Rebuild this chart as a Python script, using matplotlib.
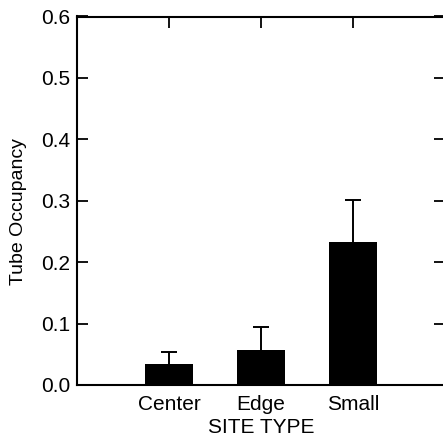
import matplotlib
matplotlib.use("Agg")
import matplotlib.pyplot as plt

plt.rcParams['font.family'] = ['Liberation Sans', 'DejaVu Sans']

categories = ["Center", "Edge", "Small"]
occupancy = [0.034, 0.057, 0.233]
err_upper = [0.019, 0.038, 0.068]
yticks = [0.0, 0.1, 0.2, 0.3, 0.4, 0.5, 0.6]

fig = plt.figure(figsize=(4.43, 4.43), dpi=100)
ax = fig.add_axes([77/443, 1-385/443, 368/443, 368.5/443])

x = [1, 2, 3]
ax.bar(x, occupancy, width=0.52, color='black', zorder=3)
eb = ax.errorbar(x, occupancy, yerr=[[0]*3, err_upper], fmt='none', ecolor='black',
                 elinewidth=1.4, capsize=6, capthick=1.4, zorder=2)
eb[1][0].set_visible(False)

ax.set_xlim(0, 4)
ax.set_ylim(0, 0.6)
ax.set_yticks(yticks)
ax.set_yticklabels([f"{v:.1f}" for v in yticks])
ax.set_xticks(x)
ax.set_xticklabels(categories)

for s in ax.spines.values():
    s.set_linewidth(1.5)
ax.spines['right'].set_visible(False)

ax.tick_params(axis='y', direction='in', length=8, width=1.3, labelsize=15,
               right=True, pad=5)
ax.tick_params(axis='x', direction='in', length=0, labelsize=15, pad=7)
ax.tick_params(axis='x', which='major', top=True)
for t in ax.xaxis.get_major_ticks():
    t.tick2line.set_markersize(8)
    t.tick2line.set_markeredgewidth(1.3)

ax.set_ylabel("Tube Occupancy", fontsize=14)
ax.yaxis.set_label_coords(-0.137, 0.47)
ax.set_xlabel("SITE TYPE", fontsize=15, labelpad=3)

fig.savefig("out.png", dpi=100)
